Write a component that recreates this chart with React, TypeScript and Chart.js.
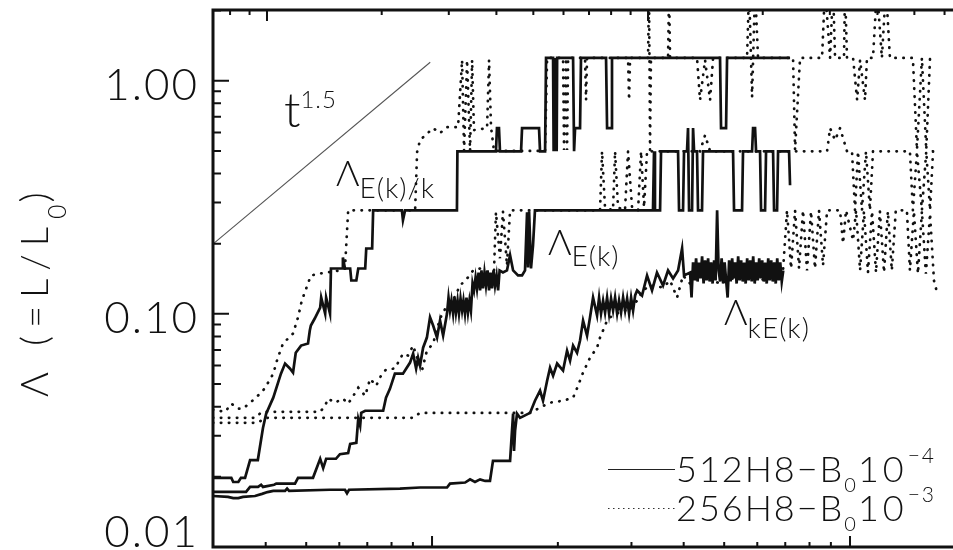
import { useEffect, useRef } from "react";
import { Chart, registerables } from "chart.js";

Chart.register(...registerables);

// Axis ranges (log scales). The top axis is a second time scale.
const xBottomRange = [2.992, 179.3];
const xTopRange = [0.7216, 64.3];
const yRange = [0.01, 2.01];

const yTickValues = [0.01, 0.1, 1];
const yTickLabels = ["0.01", "0.10", "1.00"];
const yMinorTicks = [0.02, 0.03, 0.04, 0.05, 0.06, 0.07, 0.08, 0.09, 0.2, 0.3, 0.4, 0.5, 0.6, 0.7, 0.8, 0.9, 2];
const xBottomMajor = [10, 100];
const xBottomMinor = [4, 5, 6, 7, 8, 9, 20, 30, 40, 50, 60, 70, 80, 90];
const xTopMajor = [1, 10];
const xTopMinor = [0.8, 0.9, 2, 3, 4, 5, 6, 7, 8, 9, 20, 30, 40, 50, 60];

// t^1.5 reference slope
const slopeGuide: number[][] = [[3, 0.2], [9.9, 1.2]];

// Lambda_E(k)/k
const ekOverK512: number[][] = [
  [2.99, 0.0198], [3.31, 0.0198], [3.345, 0.019], [3.44, 0.019], [3.49, 0.0198], [3.57, 0.0198],
  [3.67, 0.0236], [3.83, 0.0236], [3.94, 0.0324], [4.01, 0.0373], [4.17, 0.0437], [4.35, 0.0554],
  [4.45, 0.0612], [4.57, 0.0583], [4.65, 0.056], [4.72, 0.0681], [4.86, 0.0731], [5.05, 0.0746],
  [5.1, 0.0848], [5.13, 0.0891], [5.24, 0.0955], [5.4, 0.1064], [5.43, 0.1175], [5.55, 0.1003],
  [5.58, 0.1175], [5.7, 0.1003], [5.73, 0.1565], [6.09, 0.1565], [6.12, 0.1746], [6.19, 0.1565],
  [6.37, 0.1565], [6.41, 0.139], [6.59, 0.139], [6.66, 0.1565], [6.92, 0.1565], [6.96, 0.1907],
  [7.19, 0.1907], [7.23, 0.278], [8.47, 0.278], [8.52, 0.252], [8.62, 0.278], [11.47, 0.278],
  [11.5, 0.498], [14.22, 0.498], [14.3, 0.626], [14.46, 0.626], [14.54, 0.498], [16.33, 0.498],
  [16.42, 0.626], [18.03, 0.626], [18.13, 0.498], [18.64, 0.498], [18.74, 1.252], [19.48, 1.252],
  [19.54, 0.498], [19.59, 1.252], [19.65, 0.498], [19.7, 1.252], [19.76, 0.498], [19.81, 1.252],
  [19.87, 0.498], [19.92, 1.252], [21.75, 1.252], [21.87, 0.498],
  [21.99, 0.626], [22.6, 0.626], [22.72, 1.252], [26.08, 1.252], [26.23, 0.626], [26.81, 0.626],
  [26.95, 1.252], [48.87, 1.252], [49.14, 0.626], [50.52, 0.626], [50.8, 1.252], [71.87, 1.252],
];

const ekOverK256: number[][] = [
  [2.99, 0.0388], [3.2, 0.038], [3.31, 0.0412], [3.44, 0.0392], [3.53, 0.0392], [3.67, 0.0416],
  [3.79, 0.0437], [3.94, 0.0468], [4.04, 0.0502], [4.17, 0.0554], [4.27, 0.0643], [4.4, 0.0746],
  [4.65, 0.0823], [4.78, 0.0967], [4.88, 0.114], [5.05, 0.135], [5.13, 0.146], [5.4, 0.149],
  [6.02, 0.1535], [6.19, 0.1565], [6.3, 0.278], [9.11, 0.278], [9.21, 0.494], [9.36, 0.556],
  [10.06, 0.626], [10.45, 0.596], [10.86, 0.632], [11.54, 0.632], [11.8, 1.227], [11.93, 0.5],
  [12.13, 1.227], [12.33, 0.5], [12.47, 1.227], [12.6, 0.614], [13.54, 0.626], [13.69, 1.227],
  [13.84, 0.632], [14.07, 0.5], [18.64, 0.5], [18.85, 1.252], [20.58, 1.252], [20.69, 0.505],
  [20.92, 1.252], [21.04, 0.505], [21.16, 1.252], [23.23, 1.252], [23.36, 0.826], [23.49, 1.252],
  [29.44, 1.252], [29.61, 0.826], [29.77, 1.252], [32.87, 1.252], [33.05, 2.5], [33.23, 0.505],
  [33.41, 1.252], [36.7, 1.252], [36.91, 2.5], [37.11, 1.252], [43.05, 1.252], [43.77, 0.826],
  [45.0, 1.227], [46.26, 0.826], [47.03, 1.252], [56.71, 1.252], [57.34, 2.5], [58.3, 0.85],
  [59.27, 2.5], [60.25, 1.252], [73.07, 1.252], [73.88, 0.505], [75.94, 1.252], [85.72, 1.252],
  [87.15, 2.5], [89.59, 1.252], [91.08, 2.5], [92.09, 1.252], [96.74, 1.252], [97.28, 2.5],
  [98.36, 1.252], [101.7, 1.252], [104.0, 0.826], [105.7, 1.227], [108.6, 0.826], [109.8, 1.252],
  [113.5, 1.252], [116.0, 2.5], [119.2, 1.252], [121.9, 2.5], [124.6, 1.252], [141.4, 1.252],
  [144.6, 0.505], [148.6, 1.252], [152.2, 0.505], [155.4, 1.252], [160.6, 1.252],
];

// Lambda_E(k)
const ek512: number[][] = [
  [2.99, 0.01723], [3.59, 0.01723], [3.67, 0.0181], [3.835, 0.0181], [3.9, 0.0185], [3.94, 0.0181],
  [4.19, 0.0185], [4.24, 0.0187], [4.7, 0.0187], [4.78, 0.0198], [5.19, 0.0198], [5.4, 0.0239],
  [5.49, 0.0218], [5.58, 0.0239], [5.89, 0.0239], [6.02, 0.025], [6.3, 0.0253], [6.37, 0.0277],
  [6.59, 0.028], [6.66, 0.0355], [6.73, 0.0331], [6.77, 0.0376], [6.92, 0.0384], [7.64, 0.0384],
  [7.76, 0.0437], [7.93, 0.0477], [8.15, 0.0554], [8.52, 0.0554], [8.86, 0.0618], [9.01, 0.0675],
  [9.16, 0.0583], [9.26, 0.0649], [9.36, 0.06], [9.52, 0.0716], [9.72, 0.0791], [9.89, 0.0967],
  [10.06, 0.0891], [10.28, 0.0791], [10.45, 0.0936], [10.63, 0.0807],
  [10.86, 0.1003], [10.95, 0.1175], [11.04, 0.1033], [11.13, 0.114], [11.23, 0.1003], [11.32, 0.1175],
  [11.41, 0.1013], [11.51, 0.114], [11.6, 0.1003], [11.7, 0.1163], [11.8, 0.1033], [11.89, 0.114],
  [11.99, 0.1003], [12.09, 0.1175], [12.19, 0.1013], [12.29, 0.114], [12.39, 0.1033], [12.5, 0.135],
  [12.6, 0.126], [12.71, 0.1432], [12.81, 0.1285], [12.92, 0.1504], [13.03, 0.126], [13.13, 0.1535],
  [13.24, 0.1285], [13.35, 0.1504], [13.46, 0.1323], [13.58, 0.1535], [13.69, 0.126], [13.8, 0.1504],
  [13.92, 0.1285], [14.03, 0.1535], [14.15, 0.1323], [14.27, 0.1461], [14.39, 0.126], [14.51, 0.1535],
  [14.78, 0.1504], [15.11, 0.1535], [15.37, 0.1785],
  [15.63, 0.1535], [16.06, 0.1461], [16.42, 0.1461], [16.69, 0.1535], [16.88, 0.2727], [16.97, 0.1581],
  [17.07, 0.2755], [17.25, 0.1565], [17.44, 0.1963], [17.63, 0.278], [33.78, 0.278], [33.97, 0.498],
  [34.15, 0.278], [35.12, 0.278], [35.31, 0.498], [38.78, 0.498], [38.99, 0.278], [39.86, 0.278],
  [40.08, 0.498], [40.74, 0.498], [40.97, 0.626], [41.2, 0.278], [41.89, 0.278], [42.12, 0.626],
  [42.36, 0.498], [43.05, 0.498], [43.29, 0.278], [44.25, 0.278], [44.5, 0.498], [52.5, 0.498],
  [52.79, 0.278], [55.17, 0.278], [55.47, 0.498], [58.3, 0.498], [58.62, 0.626], [59.27, 0.626],
  [59.6, 0.498], [60.92, 0.498], [61.26, 0.278], [62.63, 0.278], [62.97, 0.498], [65.45, 0.498],
  [65.81, 0.278], [66.91, 0.278], [67.28, 0.498], [71.48, 0.498], [71.87, 0.356],
];

const ek256: number[][] = [
  [2.99, 0.0358], [3.77, 0.0358], [3.92, 0.038], [5.4, 0.038], [5.55, 0.0404], [5.64, 0.0433],
  [5.86, 0.0416], [6.12, 0.0433], [6.3, 0.0412], [6.48, 0.0445], [6.66, 0.0482], [6.92, 0.0445],
  [7.11, 0.0527], [7.35, 0.0491], [7.55, 0.0543], [7.76, 0.0577], [8.15, 0.0583], [8.52, 0.0675],
  [8.76, 0.0662], [9.01, 0.0731], [9.26, 0.063], [9.46, 0.0571], [9.72, 0.0695], [10.06, 0.0746],
  [10.45, 0.0955], [10.86, 0.1087], [11.22, 0.114], [11.67, 0.1323], [12.13, 0.1418], [12.54, 0.1535],
  [13.03, 0.1565], [13.54, 0.1504], [14.07, 0.1535], [14.22, 0.2727], [14.54, 0.1731], [14.78, 0.2755],
  [15.11, 0.1612], [15.37, 0.278], [25.23, 0.278], [25.51, 0.498], [25.93, 0.286], [27.1, 0.278],
  [27.41, 0.498], [27.86, 0.286], [28.95, 0.278], [29.44, 0.498], [30.1, 0.286], [31.11, 0.278],
  [31.63, 0.498], [32.15, 0.286], [32.69, 0.498], [43.77, 0.498], [45.0, 0.584], [46.26, 0.498],
  [88.14, 0.498], [89.59, 0.626], [92.09, 0.556], [94.66, 0.626], [98.36, 0.498], [101.1, 0.498],
  [102.8, 0.278], [104.5, 0.498], [106.8, 0.278], [109.2, 0.498], [111.6, 0.278], [113.5, 0.498],
  [139.1, 0.498], [141.4, 0.278], [144.6, 0.498], [148.6, 0.278], [152.2, 0.498], [155.4, 0.278],
  [158.0, 0.498], [161.5, 0.498],
];

// Lambda_kE(k)
const kek512: number[][] = [
  [2.99, 0.01655], [3.25, 0.0164], [3.345, 0.0162], [3.44, 0.0162], [3.53, 0.0164], [3.77, 0.01655],
  [3.92, 0.0169], [4.04, 0.0172], [4.17, 0.0174], [4.45, 0.0174], [4.5, 0.0178], [4.55, 0.0174],
  [5.7, 0.0176], [6.19, 0.0176], [6.26, 0.017], [6.33, 0.0176], [8.38, 0.0178], [9.36, 0.018],
  [10.86, 0.018], [11.04, 0.0187], [12.0, 0.0189], [12.33, 0.0195], [12.67, 0.019], [13.03, 0.0195],
  [13.4, 0.0192], [13.76, 0.0192], [13.99, 0.0234], [15.37, 0.0234], [15.63, 0.0373], [15.71, 0.0258],
  [15.8, 0.0315], [15.97, 0.0373], [16.24, 0.0358], [17.16, 0.0376], [17.63, 0.0424], [18.13, 0.0468],
  [18.43, 0.0424], [18.85, 0.0516], [19.16, 0.0588], [19.48, 0.0543], [19.92, 0.0612], [20.58, 0.0571],
  [21.04, 0.0695], [21.39, 0.063], [21.75, 0.0731], [22.23, 0.0681], [22.6, 0.0768], [22.98, 0.0936],
  [23.49, 0.0807], [23.88, 0.0967], [24.28, 0.1175],
  [24.82, 0.0985], [25.1, 0.1175], [25.37, 0.1003], [25.66, 0.114], [25.94, 0.1013], [26.23, 0.1175],
  [26.52, 0.1003], [26.81, 0.1163], [27.11, 0.1033], [27.41, 0.1175], [27.72, 0.1003], [28.02, 0.114],
  [28.33, 0.1013], [28.65, 0.1175], [28.97, 0.1033], [29.29, 0.1163], [29.61, 0.1003], [29.94, 0.1175],
  [30.27, 0.1033], [30.61, 0.1199], [30.95, 0.126],
  [31.8, 0.1199], [32.69, 0.1461], [33.6, 0.126], [34.53, 0.1504], [35.7, 0.1323], [36.7, 0.1535],
  [37.73, 0.1418], [38.78, 0.1535], [39.65, 0.1907], [40.08, 0.1461],
  [41.43, 0.1504], [41.77, 0.1175], [42.12, 0.1663], [42.47, 0.139], [42.83, 0.173], [43.18, 0.1376],
  [43.54, 0.166], [43.9, 0.1418], [44.27, 0.1765], [44.64, 0.1349], [45.01, 0.1695], [45.38, 0.139],
  [45.76, 0.173], [46.14, 0.1376], [46.52, 0.1663], [46.91, 0.1349], [47.3, 0.1695], [47.69, 0.139],
  [48.09, 0.278], [48.49, 0.1535], [48.89, 0.1376], [49.3, 0.173], [49.71, 0.1349], [50.12, 0.1663],
  [50.54, 0.139], [50.96, 0.1175], [51.38, 0.1695], [51.81, 0.1376], [52.24, 0.173], [52.67, 0.1418],
  [53.11, 0.1663], [53.55, 0.1349], [54.0, 0.1765], [54.45, 0.139], [54.9, 0.1695], [55.36, 0.1376],
  [55.82, 0.166], [56.28, 0.1349], [56.75, 0.173], [57.22, 0.139], [57.7, 0.1695], [58.18, 0.1376],
  [58.66, 0.1765], [59.15, 0.1349], [59.64, 0.1663], [60.14, 0.139], [60.64, 0.173], [61.14, 0.1418],
  [61.65, 0.1695], [62.16, 0.1376], [62.68, 0.166], [63.2, 0.1349], [63.73, 0.173], [64.26, 0.139],
  [64.79, 0.1695], [65.33, 0.1376], [65.87, 0.1663], [66.42, 0.1349], [66.97, 0.173], [67.53, 0.139],
  [68.09, 0.1663], [68.66, 0.1376], [69.23, 0.1535],
];

const kek256: number[][] = [
  [2.99, 0.0341], [3.83, 0.0341], [3.99, 0.0358], [9.01, 0.0358], [9.36, 0.0376], [17.16, 0.0376],
  [18.13, 0.0396], [19.16, 0.0416], [20.58, 0.0424], [21.75, 0.0437], [22.35, 0.0491], [22.98, 0.056],
  [23.88, 0.0649], [24.82, 0.0716], [25.23, 0.0791], [25.65, 0.0848], [26.23, 0.0936], [26.66, 0.0967],
  [28.64, 0.1033], [29.77, 0.1033], [30.93, 0.114], [31.98, 0.126], [33.23, 0.1323], [35.7, 0.1298],
  [37.11, 0.139], [38.57, 0.1175], [39.86, 0.1461], [41.43, 0.1349], [43.77, 0.1461], [48.87, 0.1349],
  [54.56, 0.1461], [60.92, 0.139], [69.14, 0.1535], [70.68, 0.278], [72.27, 0.1565], [73.88, 0.278],
  [75.52, 0.1565], [77.2, 0.278], [78.91, 0.1535], [80.67, 0.2755], [82.46, 0.1565], [84.3, 0.278],
  [86.18, 0.1612], [88.14, 0.278], [94.66, 0.278], [96.24, 0.2006], [97.83, 0.278], [101.7, 0.2065],
  [103.4, 0.278], [105.7, 0.1535], [108.0, 0.2755], [110.4, 0.1504], [112.9, 0.2755], [115.4, 0.1504],
  [117.9, 0.2755], [120.6, 0.1504], [123.2, 0.2755], [125.9, 0.1535], [128.7, 0.278], [136.8, 0.278],
  [139.1, 0.1535], [142.2, 0.2755], [145.4, 0.1488], [148.6, 0.2755], [151.9, 0.1488], [155.4, 0.2697],
  [158.8, 0.139], [161.5, 0.1236],
];

const legendLabels = ["512H8", "256H8"];
const legendExponents = ["−4", "−3"];

const FONT = 'Lato, "DejaVu Sans", sans-serif';
const INK = "#111111";

type Run = { t: string; size: number; dy: number; spacing?: number };

function drawRuns(ctx: CanvasRenderingContext2D, x: number, baseline: number, runs: Run[]) {
  let cx = x;
  for (const r of runs) {
    ctx.font = `300 ${r.size}px ${FONT}`;
    (ctx as any).letterSpacing = `${r.spacing ?? 0}px`;
    ctx.fillText(r.t, cx, baseline + r.dy);
    cx += ctx.measureText(r.t).width;
  }
  (ctx as any).letterSpacing = "0px";
}

const toPoints = (arr: number[][]) => arr.map(([x, y]) => ({ x, y }));

const decorations = {
  id: "decorations",
  afterDraw(chart: any) {
    const { ctx, chartArea: a, scales } = chart;
    const xs = scales.x;
    const xt = scales.x2;
    const ys = scales.y;
    ctx.save();
    ctx.strokeStyle = INK;
    ctx.fillStyle = INK;

    // tick marks, drawn inward
    ctx.lineWidth = 2;
    ctx.beginPath();
    const vTick = (px: number, y0: number, len: number) => {
      ctx.moveTo(px, y0);
      ctx.lineTo(px, y0 + len);
    };
    xBottomMajor.forEach((v) => vTick(xs.getPixelForValue(v), a.bottom, -11));
    xBottomMinor.forEach((v) => vTick(xs.getPixelForValue(v), a.bottom, -5));
    xTopMajor.forEach((v) => vTick(xt.getPixelForValue(v), a.top, 11));
    xTopMinor.forEach((v) => vTick(xt.getPixelForValue(v), a.top, 5));
    yTickValues.forEach((v) => {
      const py = ys.getPixelForValue(v);
      ctx.moveTo(a.left, py);
      ctx.lineTo(a.left + 16, py);
    });
    yMinorTicks.forEach((v) => {
      const py = ys.getPixelForValue(v);
      ctx.moveTo(a.left, py);
      ctx.lineTo(a.left + 8, py);
    });
    ctx.stroke();

    // frame
    ctx.lineWidth = 3;
    ctx.strokeRect(a.left, a.top, a.right - a.left, a.bottom - a.top);

    // y tick labels
    ctx.textAlign = "right";
    ctx.textBaseline = "alphabetic";
    ctx.font = `300 44px ${FONT}`;
    (ctx as any).letterSpacing = "2px";
    yTickValues.forEach((v, i) => {
      const py = ys.getPixelForValue(v);
      ctx.fillText(yTickLabels[i], a.left - 14, Math.min(py + 19, a.bottom));
    });
    (ctx as any).letterSpacing = "0px";
    ctx.textAlign = "left";

    // y axis title, rotated
    ctx.save();
    ctx.translate(48, 397);
    ctx.rotate(-Math.PI / 2);
    drawRuns(ctx, 0, 0, [
      { t: "Λ (=L/L", size: 38, dy: 0, spacing: 8 },
      { t: "0", size: 25, dy: 18, spacing: 2 },
      { t: ")", size: 40, dy: 1 },
    ]);
    ctx.restore();

    // curve labels
    drawRuns(ctx, 284, 127, [
      { t: "t", size: 48, dy: 0 },
      { t: "1.5", size: 24, dy: -19, spacing: 1 },
    ]);
    drawRuns(ctx, 336, 186, [
      { t: "Λ", size: 36, dy: 0 },
      { t: "E(k)/k", size: 28, dy: 12, spacing: 1 },
    ]);
    drawRuns(ctx, 548, 255, [
      { t: "Λ", size: 36, dy: 0 },
      { t: "E(k)", size: 28, dy: 11, spacing: 1 },
    ]);
    drawRuns(ctx, 724, 325, [
      { t: "Λ", size: 36, dy: 0 },
      { t: "kE(k)", size: 28, dy: 13, spacing: 1 },
    ]);

    // legend
    const legendBaselines = [482, 521];
    legendBaselines.forEach((b, i) => {
      const ly = b - 12.5;
      ctx.lineWidth = 1.2;
      ctx.strokeStyle = i === 0 ? "#222" : "#333";
      ctx.setLineDash(i === 0 ? [] : [1.5, 3.5]);
      ctx.beginPath();
      ctx.moveTo(608, ly);
      ctx.lineTo(675, ly);
      ctx.stroke();
      ctx.setLineDash([]);
      drawRuns(ctx, 676, b, [
        { t: `${legendLabels[i]}−B`, size: 36, dy: 0, spacing: 2 },
        { t: "0", size: 20, dy: 10, spacing: 2 },
        { t: "10", size: 36, dy: 0, spacing: 4 },
        { t: legendExponents[i], size: 21, dy: -19, spacing: 2 },
      ]);
    });
    ctx.restore();
  },
};

const CANVAS_W = 962;
const CANVAS_H = 550;

export default function App() {
  const ref = useRef<HTMLCanvasElement | null>(null);

  useEffect(() => {
    if (!ref.current) return;
    const solid = (data: number[][]) => ({
      data: toPoints(data),
      showLine: true,
      borderColor: INK,
      borderWidth: 2.7,
      pointRadius: 0,
      tension: 0,
      borderJoinStyle: "miter" as const,
    });
    const dotted = (data: number[][]) => ({
      data: toPoints(data),
      showLine: true,
      borderColor: INK,
      borderWidth: 2.7,
      borderDash: [0.4, 7.6],
      borderCapStyle: "round" as const,
      pointRadius: 0,
      tension: 0,
    });
    const chart = new Chart(ref.current, {
      type: "scatter",
      data: {
        datasets: [
          { ...solid(slopeGuide), borderColor: "#555555", borderWidth: 1.1, label: "t^1.5" },
          { ...solid(ekOverK512), label: "512H8 E(k)/k" },
          { ...dotted(ekOverK256), label: "256H8 E(k)/k" },
          { ...solid(ek512), label: "512H8 E(k)" },
          { ...dotted(ek256), label: "256H8 E(k)" },
          { ...solid(kek512), label: "512H8 kE(k)" },
          { ...dotted(kek256), label: "256H8 kE(k)" },
        ],
      },
      options: {
        animation: false,
        responsive: false,
        devicePixelRatio: 1,
        events: [],
        layout: { padding: { left: 213, top: 10, right: CANVAS_W - 956, bottom: CANVAS_H - 547 } },
        plugins: { legend: { display: false }, tooltip: { enabled: false } },
        scales: {
          x: { type: "logarithmic", position: "bottom", display: false, min: xBottomRange[0], max: xBottomRange[1], bounds: "data" },
          x2: { type: "logarithmic", axis: "x", position: "top", display: false, min: xTopRange[0], max: xTopRange[1], bounds: "data" },
          y: { type: "logarithmic", display: false, min: yRange[0], max: yRange[1], bounds: "data" },
        },
      },
      plugins: [decorations],
    } as any);
    return () => chart.destroy();
  }, []);

  return (
    <div style={{ position: "fixed", left: 0, top: 0, width: 953, height: 550, overflow: "hidden", background: "#fff" }}>
      <canvas ref={ref} width={CANVAS_W} height={CANVAS_H} style={{ display: "block" }} />
    </div>
  );
}
